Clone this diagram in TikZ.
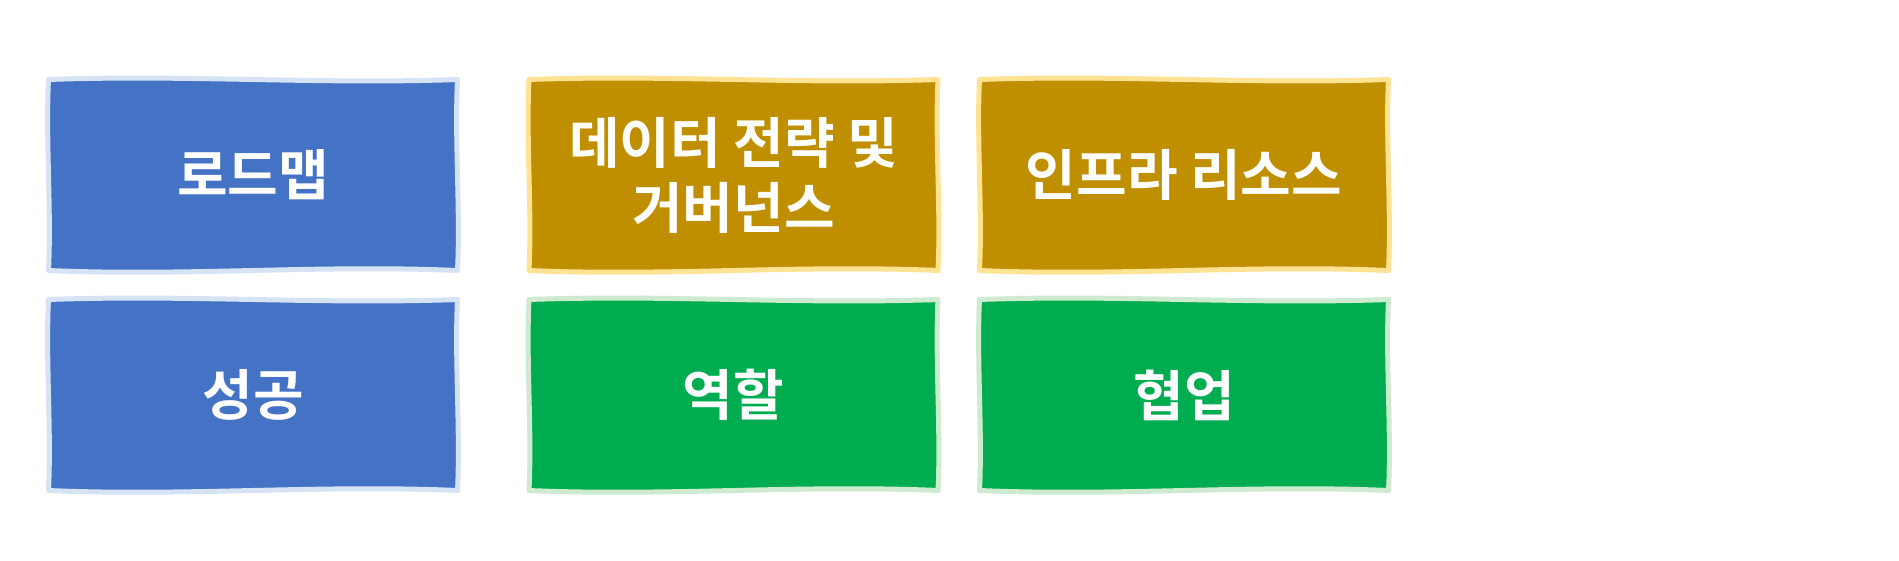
\documentclass[tikz,border=0pt]{standalone}
\usepackage{fontspec}
\newfontfamily\kr{Noto Sans CJK KR}[BoldFont={* Bold}]
\usetikzlibrary{backgrounds}
\definecolor{bluefill}{HTML}{4472C4}
\definecolor{blueedge}{HTML}{D5E3F5}
\definecolor{goldfill}{HTML}{BF8F00}
\definecolor{goldedge}{HTML}{FFE393}
\definecolor{greenfill}{HTML}{00AC50}
\definecolor{greenedge}{HTML}{CFEBCF}
\tikzset{
  card/.style={rectangle, minimum width=409pt, minimum height=191pt,
    inner sep=0pt, outer sep=0pt, align=center, text=white,
    font=\kr\bfseries\fontsize{55}{65}\selectfont},
  cardedge/.style={line width=5pt, line join=round},
}
\newcommand\wavecard[3]{%
  \begin{pgfonlayer}{background}
  \path[cardedge, fill=#2, draw=#3]
    (#1.north west) .. controls +(140,-5) and +(-140,5) .. (#1.north east)
    .. controls +(-3,60) and +(3,-60) .. (#1.south east)
    .. controls +(-140,-6) and +(140,6) .. (#1.south west)
    .. controls +(3,-60) and +(-3,60) .. cycle;
  \end{pgfonlayer}}
\begin{document}
\begin{tikzpicture}[x=1pt,y=-1pt]
\begin{pgfonlayer}{background}
\fill[white] (0,0) rectangle (1899,560);
\end{pgfonlayer}
\useasboundingbox (0,0) rectangle (1899,560);
\node[card] (roadmap) at (253,175) {로드맵};
\node[card] (data) at (733.5,175) {데이터 전략 및\\거버넌스};
\node[card] (infra) at (1184,175) {인프라 리소스};
\node[card] (success) at (253,395) {성공};
\node[card] (role) at (733.5,395) {역할};
\node[card] (collab) at (1184,395) {협업};
\wavecard{roadmap}{bluefill}{blueedge}
\wavecard{success}{bluefill}{blueedge}
\wavecard{data}{goldfill}{goldedge}
\wavecard{infra}{goldfill}{goldedge}
\wavecard{role}{greenfill}{greenedge}
\wavecard{collab}{greenfill}{greenedge}
\end{tikzpicture}
\end{document}
